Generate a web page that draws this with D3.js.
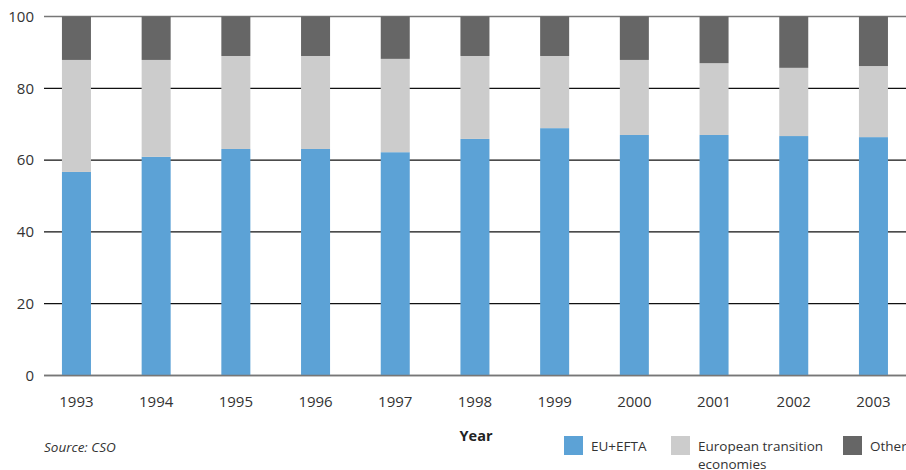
<!DOCTYPE html>
<html>
<head>
<meta charset="utf-8">
<script src="https://cdn.jsdelivr.net/npm/d3@7"></script>
<style>
  html, body { margin: 0; padding: 0; background: #fff; }
  svg { display: block; font-family: "Open Sans", "Noto Sans", sans-serif; }
</style>
</head>
<body>
<svg id="chart" width="906" height="470"></svg>
<script>
// Share of trade by partner group, per cent of total
const years = ["1993","1994","1995","1996","1997","1998","1999","2000","2001","2002","2003"];
const euEfta = [56.7, 60.9, 63.1, 63.1, 62.2, 65.9, 68.9, 67.0, 67.0, 66.7, 66.4];
const transition = [31.2, 27.0, 25.9, 25.9, 26.0, 23.1, 20.1, 20.9, 20.0, 19.0, 19.8];
const other = years.map((_, i) => +(100 - euEfta[i] - transition[i]).toFixed(1));
const seriesNames = ["EU+EFTA", "European transition economies", "Other"];
const legendLines = [["EU+EFTA"], ["European transition", "economies"], ["Other"]];
const yTicks = [0, 20, 40, 60, 80, 100];

const colors = ["#5ca2d6", "#cccccc", "#666666"];

const svg = d3.select("#chart");
const axisLeft = 44, axisRight = 906;
const plotTop = 16.5, plotBottom = 375.5;

const rows = years.map((yr, i) => ({ year: yr, s0: euEfta[i], s1: transition[i], s2: other[i] }));
const stack = d3.stack().keys(["s0", "s1", "s2"])(rows);

const x = d3.scaleBand().domain(years).range([36.6, 913.3]).paddingInner(0.636).paddingOuter(0.318);
const y = d3.scaleLinear().domain([0, 100]).range([plotBottom, plotTop]);

// gridlines
const grid = svg.append("g");
yTicks.forEach(t => {
  grid.append("line")
    .attr("x1", axisLeft).attr("x2", axisRight)
    .attr("y1", y(t)).attr("y2", y(t))
    .attr("stroke", (t === 0 || t === 100) ? "#777" : "#111")
    .attr("stroke-width", (t === 0 || t === 100) ? 1.5 : 1.2);
});

// bars
svg.append("g").selectAll("g").data(stack).join("g")
  .attr("fill", (d, i) => colors[i])
  .selectAll("rect").data(d => d).join("rect")
  .attr("x", d => x(d.data.year))
  .attr("width", x.bandwidth())
  .attr("y", d => y(d[1]))
  .attr("height", d => y(d[0]) - y(d[1]));

// redraw baseline over bars
svg.append("line")
  .attr("x1", axisLeft).attr("x2", axisRight)
  .attr("y1", y(0)).attr("y2", y(0))
  .attr("stroke", "#777").attr("stroke-width", 1.5);

// y tick labels
svg.append("g").selectAll("text").data(yTicks).join("text")
  .attr("x", 34).attr("y", d => y(d)).attr("dy", "0.35em")
  .attr("text-anchor", "end")
  .attr("font-size", 15).attr("fill", "#333")
  .text(d => d);

// x tick labels
svg.append("g").selectAll("text").data(years).join("text")
  .attr("x", d => x(d) + x.bandwidth() / 2).attr("y", 407)
  .attr("text-anchor", "middle")
  .attr("font-size", 15).attr("fill", "#333")
  .text(d => d);

// axis title
svg.append("text").attr("x", 476).attr("y", 441)
  .attr("text-anchor", "middle").attr("font-weight", "bold")
  .attr("font-size", 14.5).attr("fill", "#222").text("Year");

// source note
svg.append("text").attr("x", 44).attr("y", 452)
  .attr("font-style", "italic").attr("font-size", 13.5).attr("fill", "#333")
  .text("Source: CSO");

// legend
const legendX = [564, 671, 843];
const lg = svg.append("g");
seriesNames.forEach((name, i) => {
  lg.append("rect").attr("x", legendX[i]).attr("y", 436)
    .attr("width", 19).attr("height", 19).attr("fill", colors[i])
    .append("title").text(name);
  legendLines[i].forEach((line, j) => {
    lg.append("text").attr("x", legendX[i] + 27).attr("y", 451 + j * 17.5)
      .attr("font-size", 13.5).attr("fill", "#333")
      .text(line);
  });
});
</script>
</body>
</html>
